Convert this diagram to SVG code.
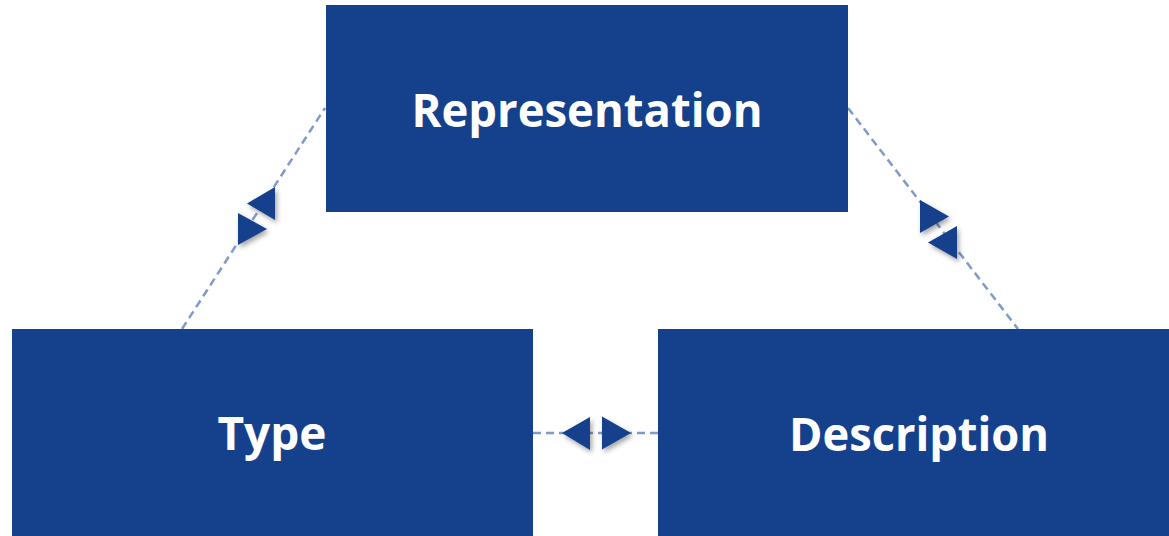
<svg xmlns="http://www.w3.org/2000/svg" width="1169" height="536" viewBox="0 0 1169 536">
<defs>
<style>
.box{fill:#15418c}
.lbl{fill:#ffffff;font-family:"Open Sans","Liberation Sans",sans-serif;font-weight:bold;font-size:46px;text-anchor:middle}
.ln{stroke:#7f9bc9;stroke-width:2.5;stroke-dasharray:8 5;fill:none}
.tri{fill:#15418c;filter:url(#sh)}
</style>
<filter id="sh" x="-50%" y="-50%" width="200%" height="200%">
<feDropShadow dx="2" dy="3" stdDeviation="2.5" flood-color="#000000" flood-opacity="0.35"/>
</filter>
</defs>
<rect width="1169" height="536" fill="#ffffff"/>
<g id="connectors">
<line class="ln" x1="182" y1="329" x2="325" y2="108"/>
<line class="ln" x1="848" y1="108" x2="1018" y2="329"/>
<line class="ln" x1="533" y1="433" x2="658" y2="433"/>
<polygon class="tri" points="247,203.5 275,187 275,220"/>
<polygon class="tri" points="238,213 238,245 267,229"/>
<polygon class="tri" points="920,200 920,233 949,216.5"/>
<polygon class="tri" points="928,242.5 957,226 957,259"/>
<polygon class="tri" points="562,433 590,417 590,450"/>
<polygon class="tri" points="602,416.5 602,449.5 631,433"/>
</g>
<g id="node-representation">
<rect class="box" x="326" y="5" width="522" height="207"/>
<text class="lbl" x="587" y="127" textLength="351" lengthAdjust="spacingAndGlyphs">Representation</text>
</g>
<g id="node-type">
<rect class="box" x="12" y="329" width="521" height="207"/>
<text class="lbl" x="272" y="450" textLength="109" lengthAdjust="spacingAndGlyphs">Type</text>
</g>
<g id="node-description">
<rect class="box" x="658" y="329" width="511" height="207"/>
<text class="lbl" x="919" y="451" textLength="260" lengthAdjust="spacingAndGlyphs">Description</text>
</g>
</svg>
